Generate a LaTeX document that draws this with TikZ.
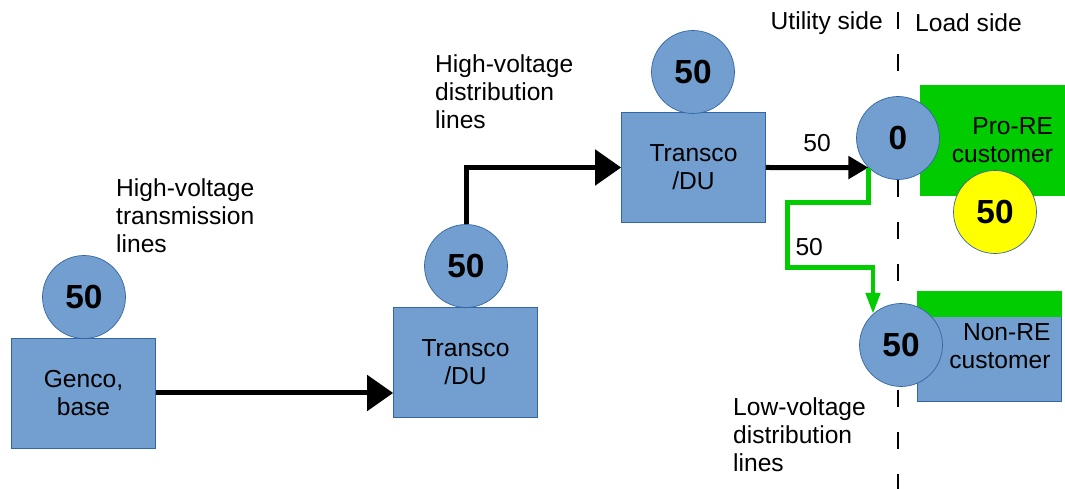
\documentclass[tikz,border=0pt]{standalone}
\usepackage{fontspec}
\setmainfont{Liberation Sans}
\usetikzlibrary{arrows.meta, calc}

\definecolor{boxblue}{HTML}{729FCF}
\definecolor{edgeblue}{HTML}{3465A4}
\definecolor{renew}{HTML}{00CC00}
\definecolor{sun}{HTML}{FFFF00}

\begin{document}
\begin{tikzpicture}[
  x=0.02cm, y=-0.02cm,
  font=\fontsize{14}{16}\selectfont,
  unit/.style={draw=edgeblue, fill=boxblue, minimum width=2.88cm, minimum height=2.2cm, inner xsep=0.22cm, text width=2.44cm, align=center},
  site/.style={unit, align=right},
  meter/.style={circle, draw=edgeblue, fill=boxblue, minimum size=1.66cm, inner sep=0, font=\fontsize{19}{22}\selectfont\bfseries},
  lines/.style={align=left, anchor=west},
  split/.style={line width=1.1pt, dash pattern=on 0.34cm off 0.5cm},
  to/.style={-{Triangle[length=0.52cm, width=0.7cm]}, line width=0.1cm},
  tonear/.style={-{Triangle[length=0.4cm, width=0.44cm]}, line width=0.1cm},
  spill/.style={-{Triangle[length=0.42cm, width=0.28cm]}, line width=0.09cm, draw=renew}]

  \useasboundingbox (0,0) rectangle (1065,489);

  % Utility / load boundary
  \coordinate (side-top) at (898,12);
  \coordinate (side-bot) at (898,489);
  \draw[split] (side-top) -- (side-bot);
  \node[anchor=east] (utility) at (889,23) {Utility side};
  \node[anchor=west] (load) at (909,23) {Load side};

  % Boxes
  \node[unit] (genco) at (83.5,393) {Genco,\\base};
  \node[unit] (tdu-hv) at (465.5,362) {Transco\\/DU};
  \node[unit] (tdu-lv) at (693.5,167.5) {Transco\\/DU};
  \node[site, fill=renew, draw=renew] (prore) at (992,140) {Pro-RE\\customer};
  \node[site] (nonre) at (989.5,346.5) {Non-RE\\customer};
  \fill[renew] (nonre.north west) rectangle ($(nonre.north east)+(0,26)$);

  % Meters on top of the boxes
  \node[meter] (m-genco) at (84,297) {50};
  \node[meter] (m-hv) at (466,266) {50};
  \node[meter] (m-lv) at (693,72) {50};
  \node[meter] (m-prore) at (898,138) {0};
  \node[meter, fill=sun] (m-pv) at (995,212) {50};
  \node[meter] (m-nonre) at (901,345) {50};

  % Line labels
  \node[lines] (hv-trans) at (110,216) {High-voltage\\transmission\\lines};
  \node[lines] (hv-dist) at (429,92) {High-voltage\\distribution\\lines};
  \node[lines] (lv-dist) at (727,435) {Low-voltage\\distribution\\lines};

  % Power flows
  \draw[to] (genco.east) -- (genco.east -| tdu-hv.west);
  \draw[to] (m-hv.north) |- (tdu-lv.west);
  \draw[tonear] (tdu-lv.east) -- (m-prore.225) node[midway, above=4pt] {50};
  \draw[spill] (m-prore.225) -- ++(0,35) -- ++(-81,0) -- ++(0,65) node[pos=0.68, right] {50} -| (m-nonre.132);

\end{tikzpicture}
\end{document}
